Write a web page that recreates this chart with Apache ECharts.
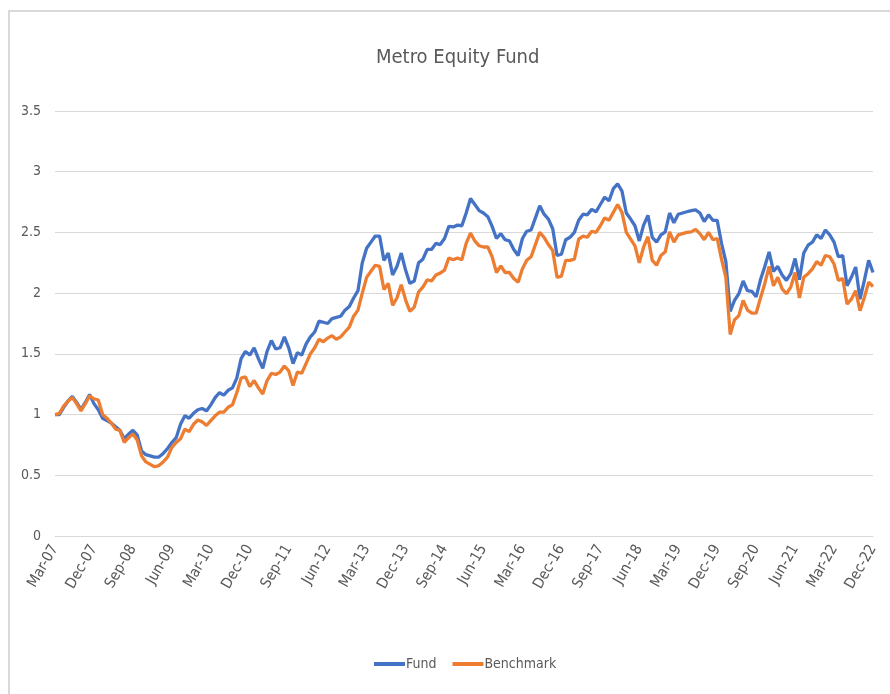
<!DOCTYPE html>
<html>
<head>
<meta charset="utf-8">
<script src="https://cdn.jsdelivr.net/npm/echarts@6/dist/echarts.min.js"></script>
<style>
html,body{margin:0;padding:0;background:#fff;}
#chart{width:890px;height:694px;}
</style>
</head>
<body>
<div id="chart"></div>
<script>
// Monthly observations, Mar-2007 .. Dec-2022
const startYear = 2007, startMonth = 2; // 0-based month index (Mar)
const monthNames = ['Jan','Feb','Mar','Apr','May','Jun','Jul','Aug','Sep','Oct','Nov','Dec'];

const fund = [
1.00,1.00,1.06,1.11,1.15,1.10,1.04,1.10,1.165,1.09,
1.04,0.97,0.95,0.93,0.90,0.87,0.80,0.84,0.87,0.83,
0.70,0.67,0.66,0.65,0.65,0.68,0.72,0.77,0.81,0.92,
0.99,0.97,1.01,1.04,1.05,1.03,1.08,1.14,1.18,1.16,
1.20,1.22,1.30,1.46,1.52,1.49,1.55,1.46,1.38,1.52,
1.61,1.54,1.55,1.64,1.55,1.42,1.51,1.49,1.58,1.64,
1.68,1.77,1.76,1.75,1.79,1.80,1.81,1.86,1.89,1.96,
2.02,2.25,2.37,2.42,2.47,2.47,2.27,2.33,2.15,2.22,
2.33,2.19,2.08,2.10,2.25,2.28,2.36,2.36,2.41,2.40,
2.45,2.55,2.545,2.56,2.555,2.66,2.78,2.73,2.68,2.66,
2.63,2.55,2.45,2.49,2.44,2.43,2.36,2.31,2.45,2.51,
2.52,2.62,2.72,2.65,2.61,2.53,2.31,2.32,2.44,2.46,
2.50,2.60,2.65,2.645,2.69,2.67,2.73,2.79,2.76,2.86,
2.90,2.84,2.66,2.61,2.555,2.43,2.56,2.64,2.46,2.42,
2.48,2.505,2.66,2.58,2.65,2.66,2.67,2.68,2.685,2.66,
2.59,2.645,2.60,2.60,2.41,2.26,1.85,1.94,1.995,2.10,
2.02,2.015,1.97,2.11,2.22,2.34,2.18,2.22,2.15,2.105,
2.16,2.285,2.11,2.33,2.395,2.42,2.48,2.45,2.52,2.48,
2.42,2.30,2.31,2.06,2.13,2.215,1.95,2.105,2.27,2.17
];

const benchmark = [
1.00,1.01,1.07,1.11,1.14,1.09,1.03,1.09,1.155,1.13,
1.12,1.00,0.97,0.93,0.88,0.87,0.77,0.81,0.84,0.79,
0.66,0.61,0.59,0.57,0.58,0.61,0.65,0.73,0.77,0.80,
0.88,0.86,0.92,0.955,0.94,0.91,0.95,0.99,1.02,1.02,
1.06,1.08,1.18,1.30,1.31,1.23,1.28,1.22,1.17,1.28,
1.34,1.33,1.35,1.40,1.36,1.24,1.35,1.34,1.42,1.50,
1.55,1.62,1.60,1.63,1.65,1.62,1.64,1.68,1.72,1.81,
1.86,2.00,2.13,2.18,2.23,2.22,2.03,2.08,1.90,1.96,
2.07,1.945,1.85,1.885,2.01,2.05,2.11,2.10,2.15,2.165,
2.19,2.29,2.275,2.29,2.275,2.41,2.495,2.43,2.39,2.38,
2.38,2.30,2.17,2.225,2.17,2.17,2.12,2.09,2.20,2.27,
2.30,2.40,2.50,2.46,2.40,2.35,2.13,2.14,2.27,2.27,
2.28,2.445,2.47,2.46,2.51,2.50,2.555,2.62,2.60,2.665,
2.73,2.665,2.50,2.445,2.39,2.25,2.38,2.465,2.27,2.23,
2.31,2.34,2.505,2.42,2.48,2.49,2.50,2.505,2.525,2.49,
2.44,2.50,2.44,2.45,2.28,2.13,1.66,1.78,1.815,1.94,
1.86,1.835,1.835,1.96,2.08,2.22,2.06,2.13,2.035,1.995,
2.05,2.17,1.96,2.13,2.16,2.20,2.26,2.23,2.31,2.30,
2.24,2.105,2.12,1.91,1.95,2.02,1.855,1.965,2.09,2.055
];

const categories = [];
for (let k = 0; k < fund.length; k++) {
  const m = (startMonth + k) % 12;
  const y = startYear + Math.floor((startMonth + k) / 12);
  categories.push(monthNames[m] + '-' + String(y % 100).padStart(2, '0'));
}

const yTicks = [0, 0.5, 1, 1.5, 2, 2.5, 3, 3.5];

const chart = echarts.init(document.getElementById('chart'), null, {renderer: 'canvas'});
const txt = '#595959';
const font = "'DejaVu Sans Condensed', Lato, sans-serif";
chart.setOption({
  backgroundColor: '#ffffff',
  animation: false,
  graphic: [
    {type: 'line', shape: {x1: 8, y1: 11, x2: 890, y2: 11}, style: {stroke: '#d9d9d9', lineWidth: 2}},
    {type: 'line', shape: {x1: 9, y1: 11, x2: 9, y2: 694}, style: {stroke: '#d9d9d9', lineWidth: 2}}
  ],
  title: {
    text: 'Metro Equity Fund',
    left: 371,
    top: 43,
    textStyle: {fontFamily: font, fontSize: 20, fontWeight: 'normal', color: txt}
  },
  legend: {
    bottom: 18,
    left: 369,
    itemWidth: 31,
    itemHeight: 4,
    itemGap: 16,
    icon: 'rect',
    textStyle: {fontFamily: font, fontSize: 14, color: txt, padding: [0, 0, 0, -4]},
    data: ['Fund', 'Benchmark']
  },
  grid: {left: 55, right: 17, top: 111, bottom: 158, containLabel: false},
  xAxis: {
    type: 'category',
    data: categories,
    boundaryGap: false,
    axisLine: {show: true, lineStyle: {color: '#d9d9d9'}},
    axisTick: {show: false},
    axisLabel: {
      interval: 8,
      rotate: 60,
      margin: 10,
      fontFamily: font,
      fontSize: 15,
      color: txt
    },
    splitLine: {show: false}
  },
  yAxis: {
    type: 'value',
    min: yTicks[0],
    max: yTicks[yTicks.length - 1],
    interval: 0.5,
    axisLine: {show: false},
    axisTick: {show: false},
    axisLabel: {margin: 14, fontFamily: font, fontSize: 14, color: txt},
    splitLine: {show: true, lineStyle: {color: '#d9d9d9', width: 1}}
  },
  series: [
    {
      name: 'Fund', type: 'line', data: fund, symbol: 'none',
      lineStyle: {color: '#4472C4', width: 3.3}, itemStyle: {color: '#4472C4'}
    },
    {
      name: 'Benchmark', type: 'line', data: benchmark, symbol: 'none',
      lineStyle: {color: '#ED7D31', width: 3.3}, itemStyle: {color: '#ED7D31'}
    }
  ]
});
</script>
</body>
</html>
